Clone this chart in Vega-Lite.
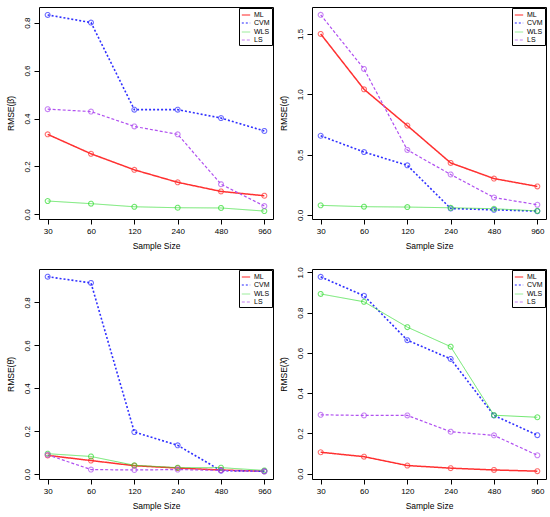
{
  "$schema": "https://vega.github.io/schema/vega-lite/v6.json",
  "background": "white",
  "padding": {"left": 5, "top": 6, "right": 2, "bottom": 2},
  "datasets": {
    "rmse": [
      {"param": "beta", "n": 30, "method": "ML", "rmse": 0.334},
      {"param": "beta", "n": 60, "method": "ML", "rmse": 0.253},
      {"param": "beta", "n": 120, "method": "ML", "rmse": 0.186},
      {"param": "beta", "n": 240, "method": "ML", "rmse": 0.134},
      {"param": "beta", "n": 480, "method": "ML", "rmse": 0.096},
      {"param": "beta", "n": 960, "method": "ML", "rmse": 0.078},
      {"param": "beta", "n": 30, "method": "CVM", "rmse": 0.832},
      {"param": "beta", "n": 60, "method": "CVM", "rmse": 0.8},
      {"param": "beta", "n": 120, "method": "CVM", "rmse": 0.437},
      {"param": "beta", "n": 240, "method": "CVM", "rmse": 0.437},
      {"param": "beta", "n": 480, "method": "CVM", "rmse": 0.402},
      {"param": "beta", "n": 960, "method": "CVM", "rmse": 0.348},
      {"param": "beta", "n": 30, "method": "WLS", "rmse": 0.056},
      {"param": "beta", "n": 60, "method": "WLS", "rmse": 0.045},
      {"param": "beta", "n": 120, "method": "WLS", "rmse": 0.032},
      {"param": "beta", "n": 240, "method": "WLS", "rmse": 0.028},
      {"param": "beta", "n": 480, "method": "WLS", "rmse": 0.027},
      {"param": "beta", "n": 960, "method": "WLS", "rmse": 0.014},
      {"param": "beta", "n": 30, "method": "LS", "rmse": 0.439},
      {"param": "beta", "n": 60, "method": "LS", "rmse": 0.429},
      {"param": "beta", "n": 120, "method": "LS", "rmse": 0.367},
      {"param": "beta", "n": 240, "method": "LS", "rmse": 0.334},
      {"param": "beta", "n": 480, "method": "LS", "rmse": 0.126},
      {"param": "beta", "n": 960, "method": "LS", "rmse": 0.035},

      {"param": "alpha", "n": 30, "method": "ML", "rmse": 1.5},
      {"param": "alpha", "n": 60, "method": "ML", "rmse": 1.041},
      {"param": "alpha", "n": 120, "method": "ML", "rmse": 0.74},
      {"param": "alpha", "n": 240, "method": "ML", "rmse": 0.431},
      {"param": "alpha", "n": 480, "method": "ML", "rmse": 0.301},
      {"param": "alpha", "n": 960, "method": "ML", "rmse": 0.236},
      {"param": "alpha", "n": 30, "method": "CVM", "rmse": 0.656},
      {"param": "alpha", "n": 60, "method": "CVM", "rmse": 0.521},
      {"param": "alpha", "n": 120, "method": "CVM", "rmse": 0.411},
      {"param": "alpha", "n": 240, "method": "CVM", "rmse": 0.053},
      {"param": "alpha", "n": 480, "method": "CVM", "rmse": 0.042},
      {"param": "alpha", "n": 960, "method": "CVM", "rmse": 0.031},
      {"param": "alpha", "n": 30, "method": "WLS", "rmse": 0.079},
      {"param": "alpha", "n": 60, "method": "WLS", "rmse": 0.068},
      {"param": "alpha", "n": 120, "method": "WLS", "rmse": 0.065},
      {"param": "alpha", "n": 240, "method": "WLS", "rmse": 0.059},
      {"param": "alpha", "n": 480, "method": "WLS", "rmse": 0.051},
      {"param": "alpha", "n": 960, "method": "WLS", "rmse": 0.033},
      {"param": "alpha", "n": 30, "method": "LS", "rmse": 1.658},
      {"param": "alpha", "n": 60, "method": "LS", "rmse": 1.21},
      {"param": "alpha", "n": 120, "method": "LS", "rmse": 0.538},
      {"param": "alpha", "n": 240, "method": "LS", "rmse": 0.335},
      {"param": "alpha", "n": 480, "method": "LS", "rmse": 0.144},
      {"param": "alpha", "n": 960, "method": "LS", "rmse": 0.084},

      {"param": "theta", "n": 30, "method": "ML", "rmse": 0.087},
      {"param": "theta", "n": 60, "method": "ML", "rmse": 0.063},
      {"param": "theta", "n": 120, "method": "ML", "rmse": 0.039},
      {"param": "theta", "n": 240, "method": "ML", "rmse": 0.028},
      {"param": "theta", "n": 480, "method": "ML", "rmse": 0.019},
      {"param": "theta", "n": 960, "method": "ML", "rmse": 0.013},
      {"param": "theta", "n": 30, "method": "CVM", "rmse": 0.92},
      {"param": "theta", "n": 60, "method": "CVM", "rmse": 0.891},
      {"param": "theta", "n": 120, "method": "CVM", "rmse": 0.196},
      {"param": "theta", "n": 240, "method": "CVM", "rmse": 0.134},
      {"param": "theta", "n": 480, "method": "CVM", "rmse": 0.016},
      {"param": "theta", "n": 960, "method": "CVM", "rmse": 0.013},
      {"param": "theta", "n": 30, "method": "WLS", "rmse": 0.095},
      {"param": "theta", "n": 60, "method": "WLS", "rmse": 0.082},
      {"param": "theta", "n": 120, "method": "WLS", "rmse": 0.041},
      {"param": "theta", "n": 240, "method": "WLS", "rmse": 0.03},
      {"param": "theta", "n": 480, "method": "WLS", "rmse": 0.03},
      {"param": "theta", "n": 960, "method": "WLS", "rmse": 0.017},
      {"param": "theta", "n": 30, "method": "LS", "rmse": 0.09},
      {"param": "theta", "n": 60, "method": "LS", "rmse": 0.021},
      {"param": "theta", "n": 120, "method": "LS", "rmse": 0.019},
      {"param": "theta", "n": 240, "method": "LS", "rmse": 0.021},
      {"param": "theta", "n": 480, "method": "LS", "rmse": 0.017},
      {"param": "theta", "n": 960, "method": "LS", "rmse": 0.013},

      {"param": "lambda", "n": 30, "method": "ML", "rmse": 0.106},
      {"param": "lambda", "n": 60, "method": "ML", "rmse": 0.084},
      {"param": "lambda", "n": 120, "method": "ML", "rmse": 0.04},
      {"param": "lambda", "n": 240, "method": "ML", "rmse": 0.027},
      {"param": "lambda", "n": 480, "method": "ML", "rmse": 0.018},
      {"param": "lambda", "n": 960, "method": "ML", "rmse": 0.012},
      {"param": "lambda", "n": 30, "method": "CVM", "rmse": 0.978},
      {"param": "lambda", "n": 60, "method": "CVM", "rmse": 0.884},
      {"param": "lambda", "n": 120, "method": "CVM", "rmse": 0.663},
      {"param": "lambda", "n": 240, "method": "CVM", "rmse": 0.57},
      {"param": "lambda", "n": 480, "method": "CVM", "rmse": 0.289},
      {"param": "lambda", "n": 960, "method": "CVM", "rmse": 0.191},
      {"param": "lambda", "n": 30, "method": "WLS", "rmse": 0.893},
      {"param": "lambda", "n": 60, "method": "WLS", "rmse": 0.854},
      {"param": "lambda", "n": 120, "method": "WLS", "rmse": 0.728},
      {"param": "lambda", "n": 240, "method": "WLS", "rmse": 0.631},
      {"param": "lambda", "n": 480, "method": "WLS", "rmse": 0.29},
      {"param": "lambda", "n": 960, "method": "WLS", "rmse": 0.28},
      {"param": "lambda", "n": 30, "method": "LS", "rmse": 0.292},
      {"param": "lambda", "n": 60, "method": "LS", "rmse": 0.289},
      {"param": "lambda", "n": 120, "method": "LS", "rmse": 0.289},
      {"param": "lambda", "n": 240, "method": "LS", "rmse": 0.208},
      {"param": "lambda", "n": 480, "method": "LS", "rmse": 0.19},
      {"param": "lambda", "n": 960, "method": "LS", "rmse": 0.091}
    ]
  },
  "config": {
    "font": "Liberation Sans",
    "view": {"stroke": "black", "strokeWidth": 1},
    "axis": {
      "grid": false,
      "domain": false,
      "tickColor": "black",
      "tickSize": 5,
      "labelColor": "black",
      "labelFontSize": 8,
      "titleFontSize": 8.5,
      "titleFontWeight": "normal",
      "titleColor": "black"
    },
    "axisX": {"labelAngle": 0, "labelPadding": 3, "titlePadding": 6},
    "axisY": {"labelAngle": 270, "labelPadding": 3, "titlePadding": 8, "format": ".1f"},
    "legend": {
      "orient": "top-right",
      "offset": 1,
      "strokeColor": "black",
      "fillColor": "white",
      "padding": 2,
      "rowPadding": 0,
      "labelFontSize": 7,
      "labelColor": "black",
      "labelOffset": 3,
      "symbolType": "stroke",
      "symbolSize": 70,
      "title": null
    }
  },
  "columns": 2,
  "spacing": {"row": 16, "column": 4},
  "resolve": {"scale": {"y": "independent"}, "legend": {"color": "independent", "strokeDash": "independent", "strokeWidth": "independent"}},
  "concat": [
    {
      "width": 234, "height": 212,
      "data": {"name": "rmse"},
      "transform": [{"filter": "datum.param == 'beta'"}],
      "encoding": {
        "x": {"field": "n", "type": "ordinal", "sort": [30, 60, 120, 240, 480, 960], "scale": {"type": "point", "padding": 0.2}, "title": "Sample Size"},
        "y": {"field": "rmse", "type": "quantitative", "scale": {"domain": [-0.019, 0.865], "nice": false, "zero": false}, "axis": {"values": [0, 0.2, 0.4, 0.6, 0.8]}, "title": "RMSE(β̂)"},
        "color": {"field": "method", "type": "nominal", "scale": {"domain": ["ML", "CVM", "WLS", "LS"], "range": ["#FF3030", "#3030FF", "#30DD30", "#B050F0"]}},
        "strokeDash": {"field": "method", "type": "nominal", "scale": {"domain": ["ML", "CVM", "WLS", "LS"], "range": [[1, 0], [2, 2], [1, 0], [3, 2]]}},
        "strokeWidth": {"field": "method", "type": "nominal", "scale": {"type": "ordinal", "domain": ["ML", "CVM", "WLS", "LS"], "range": [1.5, 1.6, 0.7, 1.2]}}
      },
      "layer": [
        {"mark": {"type": "line"}},
        {"mark": {"type": "point", "shape": "circle", "filled": false, "size": 24}, "encoding": {"strokeDash": {"value": [1, 0]}, "strokeWidth": {"value": 1.1}}}
      ]
    },
    {
      "width": 234, "height": 212,
      "data": {"name": "rmse"},
      "transform": [{"filter": "datum.param == 'alpha'"}],
      "encoding": {
        "x": {"field": "n", "type": "ordinal", "sort": [30, 60, 120, 240, 480, 960], "scale": {"type": "point", "padding": 0.2}, "title": "Sample Size"},
        "y": {"field": "rmse", "type": "quantitative", "scale": {"domain": [-0.034, 1.723], "nice": false, "zero": false}, "axis": {"values": [0, 0.5, 1, 1.5]}, "title": "RMSE(α̂)"},
        "color": {"field": "method", "type": "nominal", "scale": {"domain": ["ML", "CVM", "WLS", "LS"], "range": ["#FF3030", "#3030FF", "#30DD30", "#B050F0"]}},
        "strokeDash": {"field": "method", "type": "nominal", "scale": {"domain": ["ML", "CVM", "WLS", "LS"], "range": [[1, 0], [2, 2], [1, 0], [3, 2]]}},
        "strokeWidth": {"field": "method", "type": "nominal", "scale": {"type": "ordinal", "domain": ["ML", "CVM", "WLS", "LS"], "range": [1.5, 1.6, 0.7, 1.2]}}
      },
      "layer": [
        {"mark": {"type": "line"}},
        {"mark": {"type": "point", "shape": "circle", "filled": false, "size": 24}, "encoding": {"strokeDash": {"value": [1, 0]}, "strokeWidth": {"value": 1.1}}}
      ]
    },
    {
      "width": 234, "height": 210,
      "data": {"name": "rmse"},
      "transform": [{"filter": "datum.param == 'theta'"}],
      "encoding": {
        "x": {"field": "n", "type": "ordinal", "sort": [30, 60, 120, 240, 480, 960], "scale": {"type": "point", "padding": 0.2}, "title": "Sample Size"},
        "y": {"field": "rmse", "type": "quantitative", "scale": {"domain": [-0.023, 0.956], "nice": false, "zero": false}, "axis": {"values": [0, 0.2, 0.4, 0.6, 0.8]}, "title": "RMSE(θ̂)"},
        "color": {"field": "method", "type": "nominal", "scale": {"domain": ["ML", "CVM", "WLS", "LS"], "range": ["#FF3030", "#3030FF", "#30DD30", "#B050F0"]}},
        "strokeDash": {"field": "method", "type": "nominal", "scale": {"domain": ["ML", "CVM", "WLS", "LS"], "range": [[1, 0], [2, 2], [1, 0], [3, 2]]}},
        "strokeWidth": {"field": "method", "type": "nominal", "scale": {"type": "ordinal", "domain": ["ML", "CVM", "WLS", "LS"], "range": [1.5, 1.6, 0.7, 1.2]}}
      },
      "layer": [
        {"mark": {"type": "line"}},
        {"mark": {"type": "point", "shape": "circle", "filled": false, "size": 24}, "encoding": {"strokeDash": {"value": [1, 0]}, "strokeWidth": {"value": 1.1}}}
      ]
    },
    {
      "width": 234, "height": 210,
      "data": {"name": "rmse"},
      "transform": [{"filter": "datum.param == 'lambda'"}],
      "encoding": {
        "x": {"field": "n", "type": "ordinal", "sort": [30, 60, 120, 240, 480, 960], "scale": {"type": "point", "padding": 0.2}, "title": "Sample Size"},
        "y": {"field": "rmse", "type": "quantitative", "scale": {"domain": [-0.027, 1.017], "nice": false, "zero": false}, "axis": {"values": [0, 0.2, 0.4, 0.6, 0.8, 1.0]}, "title": "RMSE(λ̂)"},
        "color": {"field": "method", "type": "nominal", "scale": {"domain": ["ML", "CVM", "WLS", "LS"], "range": ["#FF3030", "#3030FF", "#30DD30", "#B050F0"]}},
        "strokeDash": {"field": "method", "type": "nominal", "scale": {"domain": ["ML", "CVM", "WLS", "LS"], "range": [[1, 0], [2, 2], [1, 0], [3, 2]]}},
        "strokeWidth": {"field": "method", "type": "nominal", "scale": {"type": "ordinal", "domain": ["ML", "CVM", "WLS", "LS"], "range": [1.5, 1.6, 0.7, 1.2]}}
      },
      "layer": [
        {"mark": {"type": "line"}},
        {"mark": {"type": "point", "shape": "circle", "filled": false, "size": 24}, "encoding": {"strokeDash": {"value": [1, 0]}, "strokeWidth": {"value": 1.1}}}
      ]
    }
  ]
}
